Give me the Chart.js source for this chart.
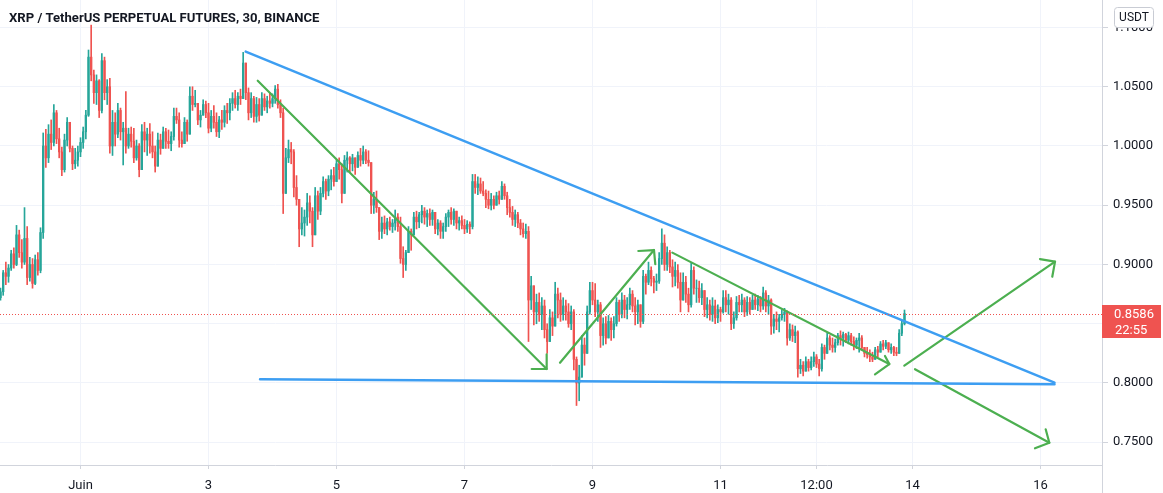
<!DOCTYPE html>
<html><head><meta charset="utf-8">
<script src="https://cdn.jsdelivr.net/npm/chart.js@4/dist/chart.umd.min.js"></script>
<style>html,body{margin:0;padding:0;background:#fff;overflow:hidden}#wrap{width:1163px;height:493px;position:relative}</style>
</head><body><div id="wrap"><canvas id="c"></canvas></div>
<script>
// ---------- text ----------
const titleText = 'XRP / TetherUS PERPETUAL FUTURES, 30, BINANCE';
const currencyText = 'USDT';
const countdownText = '22:55';

// ---------- time axis (days, 1 = 1 June 00:00) ----------
const firstCandleDay = -0.25;      // 30 May 18:00
const candleStepDays = 1 / 24;
const firstOpen = 0.872;

// ---------- candles (hourly) ----------
const highs = [
 .880,.895,.902,.900,.912,.914,.933,.929,.921,.948,.932,.906,.905,.908,.910,.931,1.011,1.014,1.018,1.022,1.035,1.030,1.015,.999,1.010,1.024,1.020,1.000,.998,1.000,
 1.007,1.016,1.030,1.081,1.102,1.064,1.060,1.056,1.078,1.075,1.056,1.057,1.030,1.028,1.036,1.032,1.020,1.046,1.015,1.016,1.015,1.005,1.002,1.018,
 1.020,1.015,1.019,1.012,1.000,1.011,1.010,1.016,1.015,1.0135,1.012,1.032,1.032,1.028,1.012,1.024,1.022,1.050,1.050,1.047,1.034,1.030,1.039,1.038,
 1.036,1.030,1.034,1.028,1.025,1.030,1.034,1.036,1.040,1.045,1.047,1.045,1.048,1.079,1.066,1.049,1.045,1.042,1.041,1.040,1.045,1.044,1.042,1.045,
 1.044,1.051,1.052,1.039,1.032,.998,1.005,1.003,.997,.975,.950,.948,.946,.960,.958,.948,.965,.962,.965,.974,.972,.975,.980,.982,
 .988,.990,.985,.992,.995,.991,.993,.990,.995,.998,1.000,.997,.996,.975,.961,.962,.943,.940,.941,.939,.940,.938,.946,.943,
 .940,.915,.912,.932,.930,.944,.945,.944,.950,.948,.946,.947,.946,.940,.938,.937,.935,.943,.946,.948,.947,.942,.940,.941,
 .938,.937,.936,.976,.976,.974,.973,.970,.963,.962,.960,.958,.961,.962,.970,.968,.961,.955,.949,.946,.944,.938,.935,.934,
 .932,.890,.878,.875,.876,.872,.870,.850,.862,.860,.885,.880,.876,.872,.870,.867,.865,.862,.822,.815,.840,.838,.865,.885,
 .885,.884,.870,.868,.855,.856,.857,.855,.856,.872,.870,.876,.874,.872,.880,.878,.872,.870,.866,.895,.892,.902,.898,.890,
 .892,.910,.930,.925,.915,.912,.904,.902,.900,.893,.893,.890,.880,.901,.898,.887,.886,.884,.876,.872,.870,.872,.870,.866,
 .864,.878,.878,.875,.872,.860,.873,.874,.875,.872,.873,.872,.874,.875,.874,.873,.881,.878,.874,.871,.858,.860,.858,.862,
 .863,.861,.850,.849,.848,.844,.820,.818,.822,.820,.822,.826,.824,.820,.833,.832,.842,.840,.838,.837,.842,.844,.843,.842,
 .843,.842,.839,.838,.842,.840,.829,.830,.828,.826,.830,.831,.835,.836,.836,.834,.833,.831,.830,.845,.853,.8616
];
const lows = [
 .870,.874,.883,.885,.895,.897,.899,.906,.897,.900,.883,.886,.880,.883,.891,.893,.922,.982,.986,.997,1.000,1.002,.990,.975,.978,1.000,.995,.980,.981,.983,
 .991,.998,1.006,1.025,1.055,1.036,1.035,1.024,1.028,1.039,1.035,.994,.992,1.000,1.007,1.005,.984,.994,.998,.999,.986,.988,.974,.991,
 .995,.992,.994,.990,.978,.992,.993,1.001,.998,.998,.996,1.005,1.019,.999,.999,1.006,1.004,1.010,1.030,1.033,1.018,1.016,1.026,1.024,
 1.011,1.012,1.015,1.008,1.007,1.014,1.016,1.019,1.022,1.030,1.032,1.030,1.035,1.045,1.039,1.022,1.024,1.020,1.020,1.021,1.028,1.030,1.028,1.032,
 1.033,1.036,1.032,1.024,.943,.971,.986,.985,.957,.950,.915,.925,.924,.933,.935,.915,.940,.938,.942,.957,.955,.958,.963,.966,
 .971,.972,.952,.975,.978,.978,.979,.976,.982,.983,.985,.985,.983,.943,.943,.944,.921,.922,.926,.925,.929,.927,.929,.928,
 .901,.889,.895,.910,.912,.932,.930,.931,.935,.934,.932,.933,.933,.926,.925,.922,.922,.928,.932,.934,.933,.930,.929,.930,
 .926,.927,.926,.930,.960,.959,.960,.958,.948,.947,.946,.947,.952,.951,.956,.955,.942,.940,.933,.932,.931,.925,.923,.922,
 .835,.862,.849,.850,.852,.845,.838,.825,.835,.840,.853,.855,.852,.853,.853,.847,.845,.811,.781,.785,.810,.815,.825,.858,
 .866,.856,.852,.830,.832,.833,.838,.836,.838,.848,.852,.855,.855,.854,.862,.860,.849,.850,.847,.850,.875,.883,.882,.876,
 .878,.884,.900,.895,.895,.893,.881,.882,.880,.860,.870,.868,.860,.864,.875,.868,.868,.866,.856,.855,.853,.852,.850,.851,
 .852,.859,.860,.858,.845,.846,.853,.860,.860,.856,.857,.858,.862,.862,.861,.860,.862,.860,.858,.841,.842,.845,.843,.853,
 .852,.832,.836,.835,.834,.805,.808,.806,.811,.810,.811,.814,.813,.806,.810,.820,.828,.828,.826,.826,.832,.832,.831,.834,
 .833,.832,.828,.829,.826,.828,.822,.821,.818,.818,.821,.822,.829,.828,.829,.826,.825,.823,.823,.829,.840,.849
];
const closes = [
 .877,.893,.890,.897,.909,.900,.925,.910,.902,.922,.889,.900,.884,.904,.895,.927,1.000,.990,1.010,1.003,1.028,1.006,.995,.980,1.005,1.020,.998,.985,.988,.995,
 1.003,1.012,1.026,1.075,1.060,1.045,1.055,1.030,1.072,1.045,1.050,1.000,1.020,1.010,1.030,1.012,1.015,1.000,1.010,1.004,.990,1.000,.980,1.012,
 1.005,1.010,1.000,.995,.983,1.005,.998,1.012,1.004,1.002,1.008,1.025,1.022,1.005,1.002,1.020,1.010,1.042,1.035,1.036,1.022,1.026,1.035,1.028,
 1.015,1.025,1.020,1.012,1.022,1.020,1.030,1.028,1.036,1.040,1.035,1.042,1.040,1.070,1.045,1.028,1.040,1.025,1.035,1.026,1.040,1.033,1.038,1.036,
 1.040,1.048,1.035,1.028,.960,.990,.997,.995,.965,.955,.930,.935,.940,.952,.945,.925,.958,.945,.960,.970,.962,.972,.975,.970,
 .985,.980,.960,.988,.990,.985,.990,.982,.992,.988,.995,.988,.986,.950,.955,.948,.928,.935,.930,.936,.932,.935,.940,.932,
 .905,.900,.910,.928,.925,.940,.936,.942,.945,.940,.943,.938,.944,.930,.935,.928,.932,.940,.944,.938,.945,.935,.937,.933,
 .930,.934,.932,.970,.965,.968,.962,.960,.955,.950,.955,.950,.958,.955,.966,.958,.948,.944,.938,.942,.935,.930,.926,.928,
 .870,.882,.860,.868,.858,.865,.845,.835,.855,.848,.875,.870,.858,.865,.860,.850,.860,.820,.800,.805,.832,.825,.860,.878,
 .870,.860,.866,.840,.850,.838,.852,.845,.850,.868,.858,.870,.862,.866,.875,.865,.860,.866,.852,.890,.885,.895,.888,.885,
 .886,.905,.918,.900,.910,.898,.890,.895,.885,.870,.885,.875,.866,.895,.880,.880,.872,.878,.862,.866,.858,.865,.855,.862,
 .860,.872,.866,.870,.850,.855,.868,.866,.870,.860,.868,.862,.870,.866,.871,.865,.876,.865,.870,.848,.854,.852,.855,.858,
 .860,.838,.845,.840,.843,.812,.815,.810,.818,.813,.818,.822,.816,.812,.830,.825,.838,.832,.830,.834,.840,.838,.841,.836,
 .840,.835,.832,.836,.838,.830,.825,.824,.822,.820,.828,.826,.833,.831,.834,.828,.830,.826,.825,.842,.850,.8586
];

// ---------- axes ----------
const xTickValues = [1, 3, 5, 7, 9, 11, 12.5, 14, 16];
const xTickLabels = ['Juin', '3', '5', '7', '9', '11', '12:00', '14', '16'];
const yTickValues = [0.75, 0.80, 0.85, 0.90, 0.95, 1.00, 1.05, 1.10];
const xRange = [-0.258, 16.961];
const yRange = [0.7308, 1.1232];

// ---------- drawings ([day, price]) ----------
const blueLineUpper = [[3.581, 1.0796], [16.219, 0.8003]];
const blueLineLower = [[3.805, 0.8031], [16.219, 0.7989]];
const greenArrows = [
  {shaft: [[3.769, 1.0551], [8.284, 0.8118]],  head: [[8.050, 0.8118], [8.284, 0.8118], [8.284, 0.8242]]},
  {shaft: [[8.492, 0.8171], [9.961, 0.9122]],  head: [[9.716, 0.9114], [9.961, 0.9122], [9.981, 0.9002]]},
  {shaft: [[10.247, 0.9100], [13.638, 0.8160]], head: [[13.414, 0.8073], [13.638, 0.8160], [13.570, 0.8228]]},
  {shaft: [[13.872, 0.8146], [16.227, 0.9024]], head: [[15.992, 0.9046], [16.227, 0.9024], [16.184, 0.8897]]},
  {shaft: [[14.039, 0.8116], [16.138, 0.7496]], head: [[15.914, 0.7449], [16.138, 0.7496], [16.081, 0.7609]]}
];

// ---------- build ----------
const UP = '#26a69a', DOWN = '#ef5350', BLUE = '#3d9ef2', GREEN = '#4caf50';
const opens = closes.map((c, i) => i === 0 ? firstOpen : closes[i - 1]);
const times = closes.map((c, i) => firstCandleDay + i * candleStepDays);
const colors = closes.map((c, i) => c >= opens[i] ? UP : DOWN);
const wickData = times.map((t, i) => ({x: t, y: [Math.min(lows[i], opens[i], closes[i]), Math.max(highs[i], opens[i], closes[i])]}));
const bodyData = times.map((t, i) => ({x: t, y: [opens[i], closes[i]]}));
const lastPrice = closes[closes.length - 1];

function lineDs(pts, color, width) {
  return {type: 'line', data: pts.map(p => ({x: p[0], y: p[1]})), borderColor: color, borderWidth: width,
    pointRadius: 0, fill: false, tension: 0, order: 0, borderCapStyle: 'round', borderJoinStyle: 'round'};
}
const datasets = [
  {type: 'bar', data: wickData, backgroundColor: colors, barThickness: 1, grouped: false, order: 3, borderWidth: 0},
  {type: 'bar', data: bodyData, backgroundColor: colors, barThickness: 1.7, grouped: false, order: 2, borderWidth: 0},
  lineDs(blueLineUpper, BLUE, 2.5),
  lineDs(blueLineLower, BLUE, 2.5)
];
greenArrows.forEach(a => { datasets.push(lineDs(a.shaft, GREEN, 2.2)); datasets.push(lineDs(a.head, GREEN, 2.2)); });

Chart.defaults.font.family = "Roboto, 'Liberation Sans', sans-serif";
Chart.defaults.font.size = 13;
Chart.defaults.color = '#131722';

const overlay = {
  id: 'overlay',
  afterDatasetsDraw(chart) {
    const {ctx, chartArea: a, scales: {y}} = chart;
    const py = Math.round(y.getPixelForValue(lastPrice)) + 0.5;
    ctx.save();
    ctx.strokeStyle = DOWN; ctx.lineWidth = 1; ctx.setLineDash([1, 2]);
    ctx.beginPath(); ctx.moveTo(a.left, py); ctx.lineTo(a.right, py); ctx.stroke();
    ctx.restore();
  },
  afterDraw(chart) {
    const {ctx, chartArea: a, scales: {y}} = chart;
    ctx.save();
    ctx.strokeStyle = '#d1d4dc'; ctx.lineWidth = 1;
    ctx.beginPath(); ctx.moveTo(a.right + 0.5, a.bottom); ctx.lineTo(a.right + 0.5, chart.height); ctx.stroke();
    let fs = 14;
    ctx.font = 'bold ' + fs + 'px Roboto, sans-serif';
    const w = ctx.measureText(titleText).width;
    fs = Math.round(fs * 310 / w * 10) / 10;
    ctx.font = 'bold ' + fs + 'px Roboto, sans-serif';
    ctx.fillStyle = '#131722'; ctx.textBaseline = 'middle'; ctx.textAlign = 'left';
    ctx.fillText(titleText, 9, 19);
    ctx.fillStyle = '#ffffff'; ctx.strokeStyle = '#c9ccd4';
    ctx.beginPath(); ctx.roundRect(1114.5, 7.5, 39, 20, 3); ctx.fill(); ctx.stroke();
    ctx.fillStyle = '#131722'; ctx.font = '12px Roboto, sans-serif'; ctx.textAlign = 'center';
    ctx.fillText(currencyText, 1134, 18);
    const py = Math.round(y.getPixelForValue(lastPrice));
    ctx.fillStyle = DOWN;
    ctx.fillRect(a.right, py - 9, 59, 33);
    ctx.fillStyle = '#ffffff'; ctx.textAlign = 'left'; ctx.font = '13px Roboto, sans-serif';
    ctx.fillText(lastPrice.toFixed(4), 1114, py + 1);
    ctx.fillText(countdownText, 1115, py + 17);
    ctx.restore();
  }
};

new Chart(document.getElementById('c'), {
  type: 'bar',
  data: {datasets},
  options: {
    responsive: true, maintainAspectRatio: false, animation: false, events: [],
    layout: {padding: 0},
    plugins: {legend: {display: false}, tooltip: {enabled: false}, title: {display: false}},
    scales: {
      x: {
        type: 'linear', min: xRange[0], max: xRange[1], offset: false, stacked: false,
        grid: {color: '#f0f3fa', tickColor: '#d1d4dc', tickLength: 4, offset: false},
        border: {color: '#d1d4dc'},
        ticks: {autoSkip: false, maxRotation: 0, padding: 9, color: '#131722',
          callback: v => { const k = xTickValues.indexOf(v); return k >= 0 ? xTickLabels[k] : ''; }},
        afterBuildTicks: s => { s.ticks = xTickValues.map(v => ({value: v})); },
        afterFit: s => { s.height = 28; s.paddingLeft = 0; s.paddingRight = 0; }
      },
      y: {
        type: 'linear', position: 'right', min: yRange[0], max: yRange[1], stacked: false,
        grid: {color: '#f0f3fa', tickColor: '#d1d4dc', tickLength: 6},
        border: {color: '#d1d4dc'},
        ticks: {padding: 5, color: '#131722', callback: v => Number(v).toFixed(4)},
        afterBuildTicks: s => { s.ticks = yTickValues.map(v => ({value: v})); },
        afterFit: s => { s.width = 61; s.paddingTop = 0; s.paddingBottom = 0; }
      }
    }
  },
  plugins: [overlay]
});
</script>
</body></html>
